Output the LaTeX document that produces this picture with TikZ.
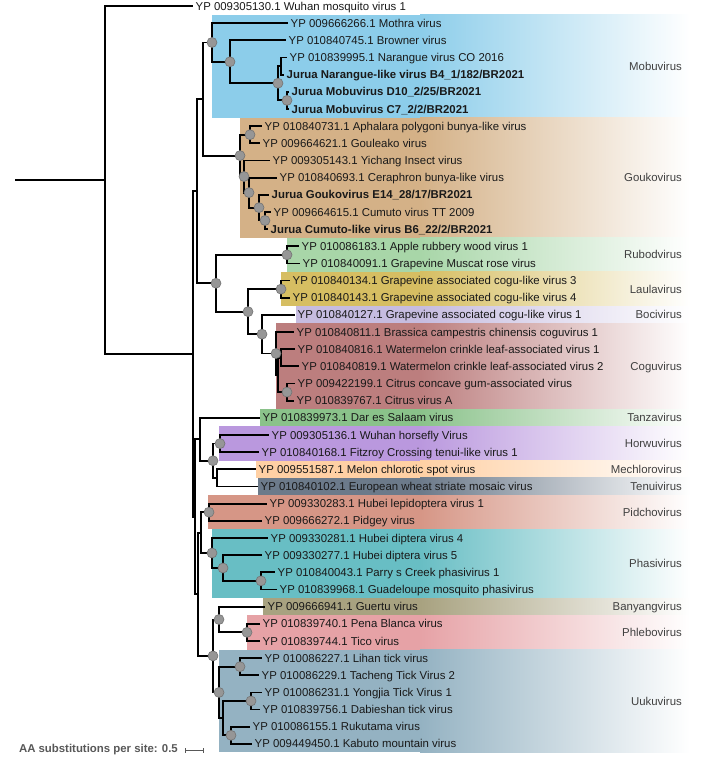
\documentclass[tikz,border=0pt]{standalone}
\usepackage{fontspec}
\setmainfont{Liberation Sans}
\definecolor{mobu}{RGB}{140,205,234}
\definecolor{gouko}{RGB}{212,177,135}
\definecolor{rubod}{RGB}{168,214,168}
\definecolor{laula}{RGB}{214,190,98}
\definecolor{boci}{RGB}{198,188,224}
\definecolor{cogu}{RGB}{188,126,126}
\definecolor{tanza}{RGB}{138,194,138}
\definecolor{horwu}{RGB}{186,152,222}
\definecolor{mechloro}{RGB}{255,208,164}
\definecolor{tenui}{RGB}{108,122,138}
\definecolor{pidcho}{RGB}{214,150,134}
\definecolor{phasi}{RGB}{104,190,196}
\definecolor{banyang}{RGB}{168,162,128}
\definecolor{phlebo}{RGB}{230,162,166}
\definecolor{uuku}{RGB}{148,178,194}
\definecolor{nodegray}{RGB}{150,150,150}
\definecolor{labgray}{RGB}{64,64,64}
\definecolor{bargray}{RGB}{88,88,88}

\begin{document}
\begin{tikzpicture}[x=1pt,y=-1pt,
    branch/.style={line width=1.8pt,black},
    support/.style={circle,fill=nodegray,draw=black!55,line width=0.6pt,minimum size=10pt,inner sep=0pt},
    tip/.style={anchor=west,inner xsep=2.5pt,inner ysep=0pt,text height=8.2pt,text depth=0pt,font=\fontsize{11.4}{13}\selectfont,text=black!90},
    newtip/.style={tip,font=\fontsize{11.4}{13}\selectfont\bfseries},
    cladelab/.style={anchor=east,inner sep=0pt,text height=8.2pt,text depth=0pt,font=\fontsize{11.4}{13}\selectfont,text=labgray}]
  \useasboundingbox (0,0) rectangle (722,760);
  \foreach \cl/\xa/\ya/\yb/\col in {Mobuvirus/212/14.58/117.54/mobu,Goukovirus/240/117.54/237.66/gouko,
      Rubodvirus/287/237.66/271.98/rubod,Laulavirus/281/271.98/306.3/laula,Bocivirus/296/306.3/323.46/boci,
      Coguvirus/276/323.46/409.26/cogu,Tanzavirus/260/409.26/426.42/tanza,Horwuvirus/219/426.42/460.74/horwu,
      Mechlorovirus/256/460.74/477.9/mechloro,Tenuivirus/258/477.9/495.06/tenui,Pidchovirus/208/495.06/529.38/pidcho,
      Phasivirus/212/529.38/598.02/phasi,Banyangvirus/263/598.02/615.18/banyang,Phlebovirus/247/615.18/649.5/phlebo,
      Uukuvirus/219/649.5/752.46/uuku}{
    \fill[\col] (\xa,\ya) rectangle (421,\yb);
    \shade[left color=\col,right color=white] (420,\ya) rectangle (690,\yb);
    \node[cladelab] (lab\cl) at (682,{(\ya+\yb)/2}) {\cl};
  }

  \coordinate (rzero) at (15,179.98);
  \coordinate (root) at (105,179.98);
  \coordinate (big) at (193,353.96);
  \coordinate (xone) at (197,191.14);
  \coordinate (mg) at (203,99.04);
  \coordinate (mobu) at (212,42.47);
  \coordinate (m2) at (230,61.77);
  \coordinate (m3) at (278,83.22);
  \coordinate (m4) at (281,66.06);
  \coordinate (m5) at (287,100.38);
  \coordinate (gou) at (240,155.61);
  \coordinate (g1) at (250,134.7);
  \coordinate (g2) at (244,176.52);
  \coordinate (g3) at (249,192.6);
  \coordinate (g4) at (259,207.63);
  \coordinate (g5) at (265,220.5);
  \coordinate (cg) at (216,283.24);
  \coordinate (rub) at (287,254.82);
  \coordinate (c2) at (248,311.66);
  \coordinate (lau) at (281,289.14);
  \coordinate (c3) at (262,334.18);
  \coordinate (cog) at (276,353.49);
  \coordinate (co2) at (278,374.94);
  \coordinate (wm) at (281,357.78);
  \coordinate (cit) at (287,392.1);
  \coordinate (low) at (195,516.78);
  \coordinate (aa) at (200,439.29);
  \coordinate (hmt) at (213,460.74);
  \coordinate (hor) at (220,443.58);
  \coordinate (mt) at (217,477.9);
  \coordinate (pb) at (198,594.27);
  \coordinate (pp) at (201,532.6);
  \coordinate (pid) at (209,512.22);
  \coordinate (pha) at (212,552.98);
  \coordinate (ph2) at (223,567.99);
  \coordinate (ph3) at (261,580.86);
  \coordinate (bpu) at (213,655.94);
  \coordinate (bp) at (219,619.47);
  \coordinate (phl) at (247,632.34);
  \coordinate (uuk) at (219,692.4);
  \coordinate (lt) at (240,666.66);
  \coordinate (ydrk) at (223,718.14);
  \coordinate (yd) at (251,700.98);
  \coordinate (rk) at (231,735.3);

  \node[tip] (t0) at (193,6) {YP 009305130.1 Wuhan mosquito virus 1};
  \node[tip] (t1) at (288,23.16) {YP 009666266.1 Mothra virus};
  \node[tip] (t2) at (286,40.32) {YP 010840745.1 Browner virus};
  \node[tip] (t3) at (287,57.48) {YP 010839995.1 Narangue virus CO 2016};
  \node[newtip] (t4) at (284,74.64) {Jurua Narangue-like virus B4\_1/182/BR2021};
  \node[newtip] (t5) at (289,91.8) {Jurua Mobuvirus D10\_2/25/BR2021};
  \node[newtip] (t6) at (289,108.96) {Jurua Mobuvirus C7\_2/2/BR2021};
  \node[tip] (t7) at (262,126.12) {YP 010840731.1 Aphalara polygoni bunya-like virus};
  \node[tip] (t8) at (260,143.28) {YP 009664621.1 Gouleako virus};
  \node[tip] (t9) at (270,160.44) {YP 009305143.1 Yichang Insect virus};
  \node[tip] (t10) at (277,177.6) {YP 010840693.1 Ceraphron bunya-like virus};
  \node[newtip] (t11) at (269,194.76) {Jurua Goukovirus E14\_28/17/BR2021};
  \node[tip] (t12) at (271,211.92) {YP 009664615.1 Cumuto virus TT 2009};
  \node[newtip] (t13) at (268,229.08) {Jurua Cumuto-like virus B6\_22/2/BR2021};
  \node[tip] (t14) at (299,246.24) {YP 010086183.1 Apple rubbery wood virus 1};
  \node[tip] (t15) at (300,263.4) {YP 010840091.1 Grapevine Muscat rose virus};
  \node[tip] (t16) at (290,280.56) {YP 010840134.1 Grapevine associated cogu-like virus 3};
  \node[tip] (t17) at (290,297.72) {YP 010840143.1 Grapevine associated cogu-like virus 4};
  \node[tip] (t18) at (295,314.88) {YP 010840127.1 Grapevine associated cogu-like virus 1};
  \node[tip] (t19) at (294,332.04) {YP 010840811.1 Brassica campestris chinensis coguvirus 1};
  \node[tip] (t20) at (295,349.2) {YP 010840816.1 Watermelon crinkle leaf-associated virus 1};
  \node[tip] (t21) at (299,366.36) {YP 010840819.1 Watermelon crinkle leaf-associated virus 2};
  \node[tip] (t22) at (295,383.52) {YP 009422199.1 Citrus concave gum-associated virus};
  \node[tip] (t23) at (294,400.68) {YP 010839767.1 Citrus virus A};
  \node[tip] (t24) at (260,417.84) {YP 010839973.1 Dar es Salaam virus};
  \node[tip] (t25) at (269,435) {YP 009305136.1 Wuhan horsefly Virus};
  \node[tip] (t26) at (259,452.16) {YP 010840168.1 Fitzroy Crossing tenui-like virus 1};
  \node[tip] (t27) at (256,469.32) {YP 009551587.1 Melon chlorotic spot virus};
  \node[tip] (t28) at (258,486.48) {YP 010840102.1 European wheat striate mosaic virus};
  \node[tip] (t29) at (267,503.64) {YP 009330283.1 Hubei lepidoptera virus 1};
  \node[tip] (t30) at (262,520.8) {YP 009666272.1 Pidgey virus};
  \node[tip] (t31) at (268,537.96) {YP 009330281.1 Hubei diptera virus 4};
  \node[tip] (t32) at (262,555.12) {YP 009330277.1 Hubei diptera virus 5};
  \node[tip] (t33) at (275,572.28) {YP 010840043.1 Parry s Creek phasivirus 1};
  \node[tip] (t34) at (277,589.44) {YP 010839968.1 Guadeloupe mosquito phasivirus};
  \node[tip] (t35) at (265,606.6) {YP 009666941.1 Guertu virus};
  \node[tip] (t36) at (260,623.76) {YP 010839740.1 Pena Blanca virus};
  \node[tip] (t37) at (260,640.92) {YP 010839744.1 Tico virus};
  \node[tip] (t38) at (262,658.08) {YP 010086227.1 Lihan tick virus};
  \node[tip] (t39) at (259,675.24) {YP 010086229.1 Tacheng Tick Virus 2};
  \node[tip] (t40) at (262,692.4) {YP 010086231.1 Yongjia Tick Virus 1};
  \node[tip] (t41) at (260,709.56) {YP 010839756.1 Dabieshan tick virus};
  \node[tip] (t42) at (250,726.72) {YP 010086155.1 Rukutama virus};
  \node[tip] (t43) at (252,743.88) {YP 009449450.1 Kabuto mountain virus};

  \draw[branch] (rzero) -- (root);
  \foreach \p/\c in {root/big,big/xone,big/low,xone/mg,xone/cg,mg/mobu,mg/gou,mobu/m2,m2/m3,m3/m4,m3/m5,
      gou/g1,gou/g2,g2/g3,g3/g4,g4/g5,cg/rub,cg/c2,c2/lau,c2/c3,c3/cog,cog/co2,co2/wm,co2/cit,
      low/aa,low/pb,aa/hmt,hmt/hor,hmt/mt,pb/pp,pb/bpu,pp/pid,pp/pha,pha/ph2,ph2/ph3,
      bpu/bp,bpu/uuk,bp/phl,uuk/lt,uuk/ydrk,ydrk/yd,ydrk/rk}{\draw[branch] (\p) |- (\c);}
  \foreach \p/\c in {root/t0,mobu/t1,m2/t2,m4/t3,m4/t4,m5/t5,m5/t6,g1/t7,g1/t8,g2/t9,g3/t10,g4/t11,g5/t12,g5/t13,
      rub/t14,rub/t15,lau/t16,lau/t17,c3/t18,cog/t19,wm/t20,wm/t21,cit/t22,cit/t23,aa/t24,hor/t25,hor/t26,
      mt/t27,mt/t28,pid/t29,pid/t30,pha/t31,ph2/t32,ph3/t33,ph3/t34,bp/t35,phl/t36,phl/t37,lt/t38,lt/t39,
      yd/t40,yd/t41,rk/t42,rk/t43}{\draw[branch] (\p) |- (\c.west);}
  \foreach \n in {mobu,m2,m3,m5,gou,g1,g2,g3,g4,g5,cg,rub,c2,lau,c3,cog,cit,hmt,hor,pid,pha,ph2,ph3,bpu,bp,phl,uuk,lt,yd,rk}
    {\node[support] (dot\n) at (\n) {};}

  \node[anchor=east,inner sep=0pt,text=bargray,font=\fontsize{11.4}{13}\selectfont\bfseries] (scaletext) at (178,750) {AA substitutions per site: 0.5};
  \coordinate (sba) at (185,750);
  \coordinate (sbb) at (203,750);
  \draw[bargray,line width=1pt] (sba) -- (sbb);
  \draw[bargray,line width=1pt] ([yshift=-2.5pt]sba) -- ([yshift=2.5pt]sba);
  \draw[bargray,line width=1pt] ([yshift=-2.5pt]sbb) -- ([yshift=2.5pt]sbb);
\end{tikzpicture}
\end{document}
